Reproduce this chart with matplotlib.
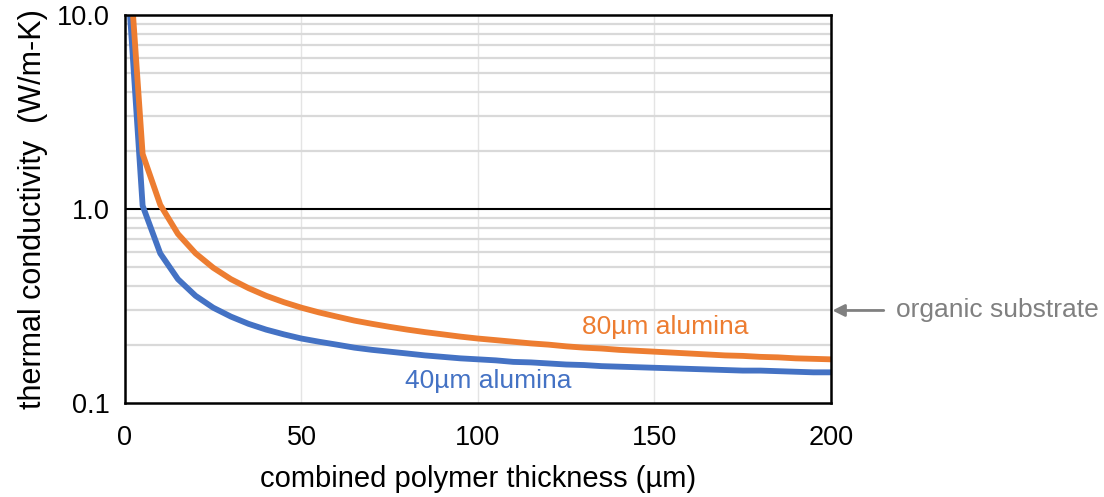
import matplotlib.pyplot as plt
from matplotlib.ticker import FixedLocator, FixedFormatter

plt.rcParams['font.family'] = ['Liberation Sans', 'DejaVu Sans']

# polymer thickness (um), 5 um steps
thickness = [0, 5, 10, 15, 20, 25, 30, 35, 40, 45, 50, 55, 60, 65, 70, 75, 80, 85, 90, 95, 100,
             105, 110, 115, 120, 125, 130, 135, 140, 145, 150, 155, 160, 165, 170, 175, 180, 185, 190, 195, 200]

k_40um = [25.0, 1.04, 0.59, 0.435, 0.357, 0.310, 0.279, 0.256, 0.239, 0.226, 0.215,
          0.207, 0.200, 0.193, 0.188, 0.184, 0.180, 0.176, 0.173, 0.170, 0.168,
          0.166, 0.163, 0.162, 0.160, 0.158, 0.157, 0.155, 0.154, 0.153, 0.152,
          0.151, 0.150, 0.149, 0.148, 0.147, 0.147, 0.146, 0.145, 0.144, 0.144]

k_80um = [40.0, 1.92, 1.05, 0.744, 0.591, 0.498, 0.435, 0.391, 0.357, 0.331, 0.310,
          0.293, 0.279, 0.266, 0.256, 0.247, 0.239, 0.232, 0.226, 0.220, 0.215,
          0.211, 0.207, 0.203, 0.200, 0.196, 0.193, 0.191, 0.188, 0.186, 0.184,
          0.182, 0.180, 0.178, 0.176, 0.175, 0.173, 0.172, 0.170, 0.169, 0.168]

organic_k = 0.3

y_ticks = [0.1, 1.0, 10.0]
y_labels = ['0.1', '1.0', '10.0']
x_ticks = [0, 50, 100, 150, 200]

blue = '#4472C4'
orange = '#ED7D31'
gray = '#808080'

fig = plt.figure(figsize=(11.04, 4.97), dpi=100)
ax = fig.add_axes([0.1132, 0.189, 0.6395, 0.781])

ax.set_yscale('log')
ax.set_xlim(0, 200)
ax.set_ylim(0.1, 10)

# gridlines: light minor decades, black line at 1.0, light verticals
ax.yaxis.set_major_locator(FixedLocator(y_ticks))
ax.yaxis.set_major_formatter(FixedFormatter(y_labels))
ax.yaxis.set_minor_locator(FixedLocator([0.2, 0.3, 0.4, 0.5, 0.6, 0.7, 0.8, 0.9,
                                         2, 3, 4, 5, 6, 7, 8, 9]))
ax.yaxis.set_minor_formatter(FixedFormatter([]))
ax.set_xticks(x_ticks)
ax.grid(axis='y', which='minor', color='#d9d9d9', linewidth=1.6)
ax.grid(axis='x', which='major', color='#e4e4e4', linewidth=1.0)
ax.axhline(1.0, color='black', linewidth=1.5, zorder=2)

ax.plot(thickness, k_40um, color=blue, linewidth=4.2, solid_joinstyle='round', zorder=3)
ax.plot(thickness, k_80um, color=orange, linewidth=4.2, solid_joinstyle='round', zorder=3)

for s in ax.spines.values():
    s.set_linewidth(1.8)
    s.set_color('black')
    s.set_zorder(4)

ax.tick_params(axis='both', which='both', length=0, labelsize=19.5)
ax.tick_params(axis='y', pad=11)
ax.tick_params(axis='x', pad=16)

ax.set_xlabel('combined polymer thickness (µm)', fontsize=21, labelpad=10)
ax.set_ylabel('thermal conductivity  (W/m-K)', fontsize=22, labelpad=6)

ax.text(153, 0.246, '80µm alumina', color=orange, fontsize=19, ha='center', va='center')
ax.text(103, 0.130, '40µm alumina', color=blue, fontsize=19, ha='center', va='center')

ax.annotate('organic substrate', xy=(1.0, organic_k), xycoords=('axes fraction', 'data'),
            xytext=(47, 0), textcoords='offset points', color=gray, fontsize=19,
            va='center', ha='left', annotation_clip=False,
            arrowprops=dict(arrowstyle='-|>', color=gray, lw=2, mutation_scale=18,
                            shrinkA=7, shrinkB=1))

fig.savefig('out.png', dpi=100)
